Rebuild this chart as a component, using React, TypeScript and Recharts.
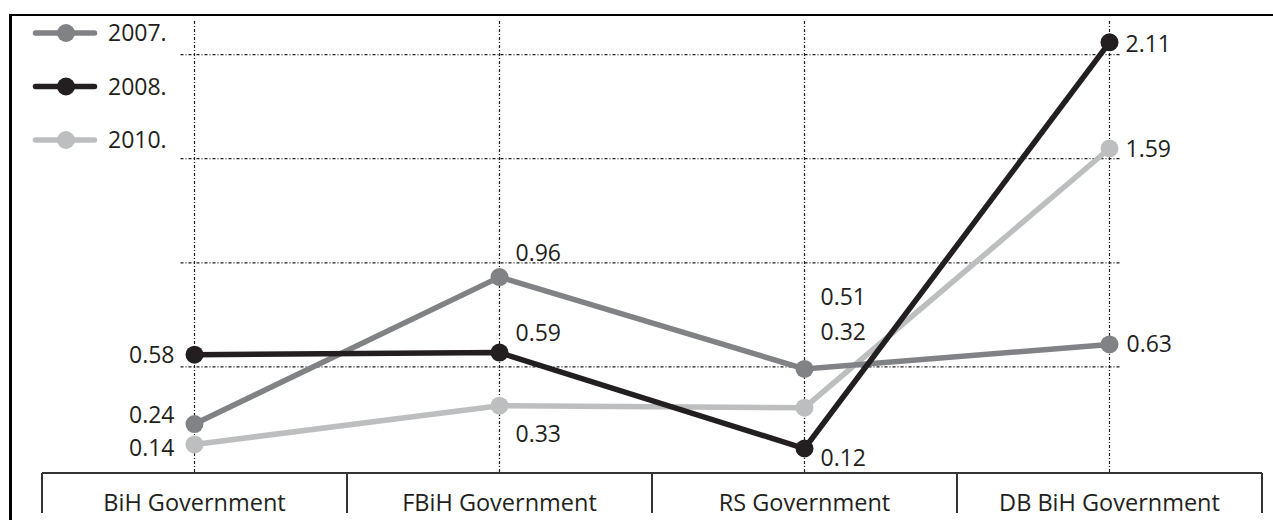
import React from 'react';
import { LineChart, Line, XAxis, YAxis, ReferenceLine, LabelList, Legend } from 'recharts';

const categories = ['BiH Government', 'FBiH Government', 'RS Government', 'DB BiH Government'];
const values2007 = [0.24, 0.96, 0.51, 0.63];
const values2008 = [0.58, 0.59, 0.12, 2.11];
const values2010 = [0.14, 0.33, 0.32, 1.59];
const gridValues = [0.52, 1.03, 1.54, 2.05];

const series = [
  { key: 'y2007', name: '2007.', color: '#808285' },
  { key: 'y2008', name: '2008.', color: '#231f20' },
  { key: 'y2010', name: '2010.', color: '#bcbec0' },
];

// where each value label sits relative to its point [dx, dy]
const labelOffsets: Record<string, number[][]> = {
  y2007: [[-20, -9], [16, -24], [16, -72], [17, 0]],
  y2008: [[-20, 0], [16, -20], [16, 9], [16, 2]],
  y2010: [[-20, 4], [16, 28], [16, -76], [16, 1]],
};

const data = categories.map((name, i) => ({
  name,
  y2007: values2007[i],
  y2008: values2008[i],
  y2010: values2010[i],
}));

const TEXT = '#231f20';
const FONT = '"Open Sans", sans-serif';
const DASH = '3 2 1 2';

const makeLabel = (key: string) => (props: any) => {
  const x = props.x ?? props.viewBox?.x;
  const y = props.y ?? props.viewBox?.y;
  const [dx, dy] = labelOffsets[key][props.index];
  return (
    <text
      x={x + dx}
      y={y + dy + 8}
      textAnchor={dx < 0 ? 'end' : 'start'}
      fontSize={23}
      fontFamily={FONT}
      fill={TEXT}
    >
      {Number(props.value).toFixed(2)}
    </text>
  );
};

const CategoryTick = (props: any) => {
  const { x, y, payload, index, visibleTicksCount, width } = props;
  const half = payload.offset || width / visibleTicksCount / 2;
  return (
    <g>
      <line x1={x - half} y1={y} x2={x - half} y2={y + 40} stroke="#333" strokeWidth={2} />
      {index === visibleTicksCount - 1 && (
        <line x1={x + half} y1={y} x2={x + half} y2={y + 40} stroke="#333" strokeWidth={2} />
      )}
      <text x={x} y={y + 38} textAnchor="middle" fontSize={23.5} fontFamily={FONT} fill={TEXT}>
        {payload.value}
      </text>
    </g>
  );
};

const HGrid = (p: any) => (
  <line x1={p.x1 - 14} y1={p.y1} x2={p.x2 + 12} y2={p.y2} stroke={TEXT} strokeWidth={1.2} strokeDasharray={DASH} />
);

const VGrid = (p: any) => (
  <line x1={p.x1} y1={Math.min(p.y1, p.y2) - 3} x2={p.x2} y2={Math.max(p.y1, p.y2)} stroke={TEXT} strokeWidth={1.2} strokeDasharray={DASH} />
);

const LegendContent = ({ payload }: any) => {
  const items = [...(payload || [])].sort((a, b) => String(a.value).localeCompare(String(b.value)));
  return (
    <svg width={160} height={150}>
      {items.map((it: any, i: number) => {
        const cy = 19 + i * 53.5;
        return (
          <g key={it.value}>
            <line x1={5.5} y1={cy} x2={64.5} y2={cy} stroke={it.color} strokeWidth={5.5} strokeLinecap="round" />
            <circle cx={36} cy={cy} r={9} fill={it.color} />
            <text x={78} y={cy + 8} fontSize={23} fontFamily={FONT} fill={TEXT}>{it.value}</text>
          </g>
        );
      })}
    </svg>
  );
};

export default function App() {
  const drawOrder = [series[2], series[0], series[1]];
  return (
    <div style={{ position: 'fixed', left: 0, top: 0, width: 1273, height: 520, background: '#fff', overflow: 'hidden', fontFamily: FONT }}>
      <div
        style={{
          position: 'absolute', left: 9, top: 14, width: 1300, height: 600,
          borderLeft: '3px solid #000', borderTop: '2px solid #000', boxSizing: 'border-box',
        }}
      />
      <LineChart width={1273} height={520} data={data} margin={{ top: 24, right: 11, bottom: 0, left: 42 }}>
        {categories.map((c) => (
          <ReferenceLine key={c} x={c} shape={VGrid} />
        ))}
        {gridValues.map((v) => (
          <ReferenceLine
            key={v}
            segment={[{ x: categories[0], y: v }, { x: categories[categories.length - 1], y: v }]}
            shape={HGrid}
          />
        ))}
        <XAxis
          dataKey="name"
          scale="band"
          interval={0}
          height={47}
          tickSize={0}
          tickMargin={0}
          tickLine={false}
          axisLine={{ stroke: '#333', strokeWidth: 2 }}
          tick={<CategoryTick />}
        />
        <YAxis hide domain={[0, 2.2]} type="number" />
        <Legend
          layout="vertical"
          align="center"
          verticalAlign="middle"
          wrapperStyle={{ left: 30, top: 14, width: 160 }}
          content={<LegendContent />}
        />
        {drawOrder.map((s) => (
          <Line
            key={s.key}
            type="linear"
            dataKey={s.key}
            name={s.name}
            stroke={s.color}
            strokeWidth={5.5}
            dot={{ r: 9, fill: s.color, stroke: 'none' }}
            activeDot={false}
            isAnimationActive={false}
          >
            <LabelList dataKey={s.key} content={makeLabel(s.key)} />
          </Line>
        ))}
      </LineChart>
    </div>
  );
}
